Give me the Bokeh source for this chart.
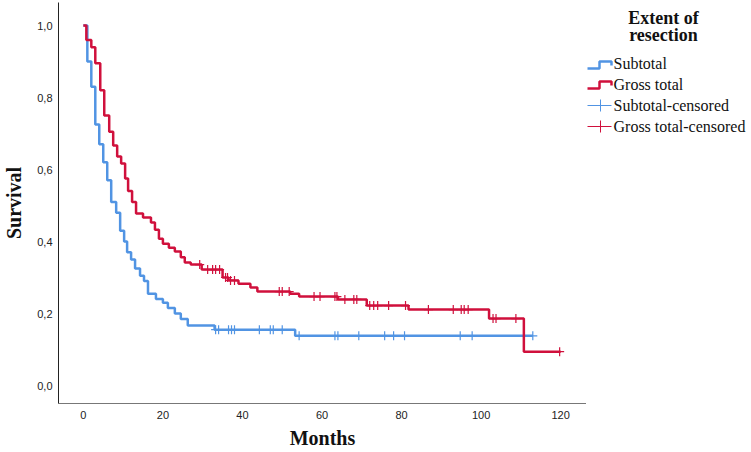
import numpy as np
from bokeh.plotting import figure
from bokeh.layouts import row
from bokeh.models import Range1d, FixedTicker, CustomJSTickFormatter
from bokeh.core.properties import value
from bokeh.embed import file_html
from bokeh.resources import INLINE

# ---- data ----
sub_times = [0, 1, 2, 3, 4, 5, 6, 7, 8.25, 9.25, 10.25, 11, 12, 13, 14.25, 15.25,
             16.25, 18.25, 20, 21.25, 23, 24.5, 26.25, 33, 53.25]
sub_surv = [1.0, 0.90, 0.83, 0.725, 0.67, 0.62, 0.57, 0.51, 0.48, 0.43, 0.40, 0.37,
            0.35, 0.325, 0.305, 0.29, 0.255, 0.24, 0.23, 0.215, 0.20, 0.185, 0.167,
            0.155, 0.138]
sub_end = 113
sub_censored = [33.25, 34, 36.5, 37.25, 38, 44.25, 47, 47.75, 50, 54.25, 63.25, 64,
                69.25, 75.75, 78, 80.75, 94.75, 97.75, 113]

gt_times = [0, 0.75, 2, 3, 4.25, 5.25, 6.5, 7.5, 8.5, 9.5, 10.5, 11.25, 12.25, 13.25,
            15, 17, 18, 19, 20, 21.5, 23, 24.5, 25.5, 27, 29.75, 35, 36.5, 39, 42,
            43.75, 52, 54.25, 64, 71.25, 81.75, 102, 110.75]
gt_surv = [1.0, 0.96, 0.94, 0.895, 0.82, 0.75, 0.705, 0.667, 0.636, 0.617, 0.575,
           0.54, 0.51, 0.478, 0.467, 0.453, 0.433, 0.408, 0.394, 0.383, 0.372, 0.356,
           0.342, 0.336, 0.322, 0.30, 0.292, 0.283, 0.272, 0.261, 0.255, 0.247, 0.239,
           0.222, 0.211, 0.186, 0.094]
gt_end = 120
gt_censored = [29.25, 31.25, 32.5, 33.25, 34.25, 35.75, 36.25, 37, 38, 49.25, 50,
               51.75, 58, 59.5, 63.25, 63.75, 65.75, 68, 68.75, 72, 73, 74, 76.75, 81,
               86.75, 93, 95, 95.75, 96.75, 103, 103.75, 108.75, 119.75]

x_ticks = [0, 20, 40, 60, 80, 100, 120]
y_ticks = [0.0, 0.2, 0.4, 0.6, 0.8, 1.0]
legend_labels = ["Subtotal", "Gross total", "Subtotal-censored", "Gross total-censored"]

BLUE = "#5194E3"
RED = "#D0103C"
SERIF = "Liberation Serif"
SANS = "Liberation Sans"


def step_xy(times, surv, end):
    return list(times) + [end], list(surv) + [surv[-1]]


def at(times, surv, pts):
    idx = np.searchsorted(np.array(times), np.array(pts), side="right") - 1
    return [surv[i] for i in idx]


p = figure(width=586, height=452, x_range=Range1d(-6.25, 126.5),
           y_range=Range1d(-0.05, 1.064), output_backend="svg",
           toolbar_location=None, min_border_left=55, min_border_right=0,
           min_border_top=2, min_border_bottom=49)
p.grid.visible = False
p.outline_line_color = None
p.background_fill_color = "white"
p.border_fill_color = "white"

p.xaxis.ticker = FixedTicker(ticks=x_ticks)
p.yaxis.ticker = FixedTicker(ticks=y_ticks)
p.yaxis.formatter = CustomJSTickFormatter(code="return tick.toFixed(1).replace('.', ',');")
for ax in (p.xaxis, p.yaxis):
    ax.major_tick_line_color = None
    ax.minor_tick_line_color = None
    ax.major_tick_out = 0
    ax.major_tick_in = 0
    ax.minor_tick_out = 0
    ax.minor_tick_in = 0
    ax.major_label_text_font = SANS
    ax.major_label_text_font_size = "11px"
    ax.major_label_text_color = "#222222"
    ax.axis_label_text_font = SERIF
    ax.axis_label_text_font_style = "bold"
    ax.axis_label_text_font_size = "20px"
    ax.axis_label_text_color = "#111111"
p.yaxis.axis_line_color = "#222222"
p.xaxis.axis_line_color = "#777777"
p.xaxis.axis_line_width = 1.2
p.xaxis.major_label_standoff = 7
p.yaxis.major_label_standoff = 6
p.xaxis.axis_label = "Months"
p.yaxis.axis_label = "Survival"
p.xaxis.axis_label_standoff = 5
p.yaxis.axis_label_standoff = 9

sx, sy = step_xy(sub_times, sub_surv, sub_end)
gx, gy = step_xy(gt_times, gt_surv, gt_end)
p.step(sx, sy, mode="after", line_width=2.5, color=BLUE)
p.step(gx, gy, mode="after", line_width=2.5, color=RED)
p.scatter(sub_censored, at(sub_times, sub_surv, sub_censored), marker="cross",
          size=9, line_width=1.2, color=BLUE)
p.scatter(gt_censored, at(gt_times, gt_surv, gt_censored), marker="cross",
          size=9, line_width=1.2, color=RED)

# ---- legend panel (frame aligned with the main plot frame: page y 2..403) ----
lf = figure(width=165, height=452, x_range=Range1d(0, 165), y_range=Range1d(403, 2),
            x_axis_type=None, y_axis_type=None, output_backend="svg",
            toolbar_location=None, min_border_left=0, min_border_right=0,
            min_border_top=2, min_border_bottom=49)
lf.grid.visible = False
lf.outline_line_color = None
lf.text(x=[77, 77], y=[17, 34], text=["Extent of", "resection"], text_align="center",
        text_baseline="middle", text_font=value(SERIF), text_font_style="bold",
        text_font_size="18px", text_color="#111111")
lf.line([1, 13, 13, 25, 25], [68, 68, 61, 61, 65], line_width=2.5, color=BLUE)
lf.line([1, 13, 13, 25, 25], [88, 88, 81, 81, 85], line_width=2.5, color=RED)
lf.line([1, 25], [105, 105], line_width=1, color=BLUE)
lf.line([14, 14], [99, 111], line_width=1, color=BLUE)
lf.line([1, 25], [126, 126], line_width=1, color=RED)
lf.line([14, 14], [120, 132], line_width=1, color=RED)
lf.text(x=[27, 27, 27, 27], y=[63, 84, 105, 126], text=legend_labels,
        text_align="left", text_baseline="middle", text_font=value(SERIF),
        text_font_size="16px", text_color="#111111")

layout = row(p, lf)
open("out.html", "w").write(file_html(layout, INLINE))
